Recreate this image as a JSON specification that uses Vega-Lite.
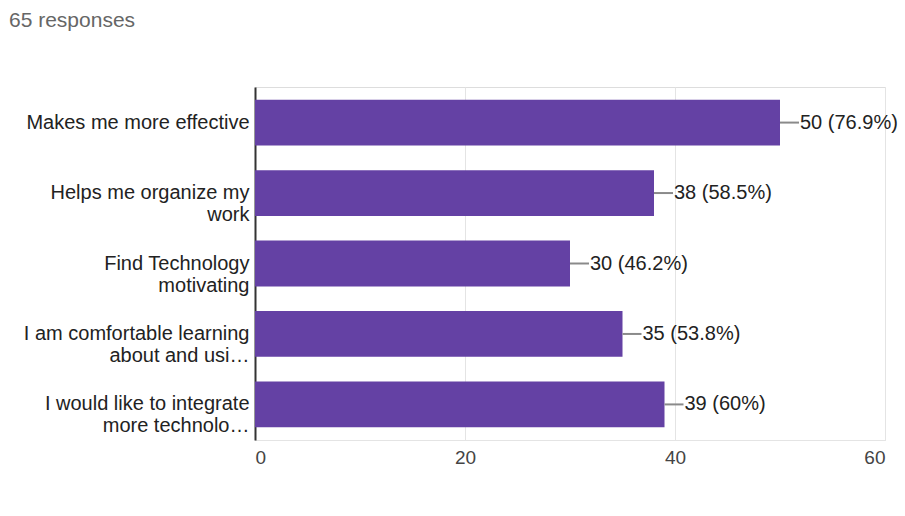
{
  "$schema": "https://vega.github.io/schema/vega-lite/v6.json",
  "autosize": {"type": "none"},
  "width": 630,
  "height": 353,
  "padding": {"left": 255, "top": 87, "right": 20, "bottom": 76},
  "background": "white",
  "title": {
    "text": "65 responses",
    "anchor": "start",
    "frame": "group",
    "dx": -246,
    "offset": 56,
    "fontSize": 21,
    "font": "Liberation Sans",
    "fontWeight": "normal",
    "color": "#666666"
  },
  "data": {
    "values": [
      {"answer": "Makes me more effective", "count": 50, "label": "50 (76.9%)"},
      {"answer": "Helps me organize my work", "count": 38, "label": "38 (58.5%)"},
      {"answer": "Find Technology motivating", "count": 30, "label": "30 (46.2%)"},
      {"answer": "I am comfortable learning about and using technology", "count": 35, "label": "35 (53.8%)"},
      {"answer": "I would like to integrate more technology", "count": 39, "label": "39 (60%)"}
    ]
  },
  "encoding": {
    "y": {
      "field": "answer",
      "type": "nominal",
      "sort": null,
      "title": null,
      "scale": {"paddingInner": 0.35, "paddingOuter": 0.18},
      "axis": {
        "domainColor": "#333333",
        "domainWidth": 2,
        "ticks": false,
        "labelPadding": 6,
        "labelFont": "Liberation Sans",
        "labelFontSize": 20,
        "labelColor": "#222222",
        "labelLimit": 300,
        "labelLineHeight": 22,
        "labelExpr": "datum.value == 'Helps me organize my work' ? ['Helps me organize my', 'work'] : datum.value == 'Find Technology motivating' ? ['Find Technology', 'motivating'] : datum.value == 'I am comfortable learning about and using technology' ? ['I am comfortable learning', 'about and usi…'] : datum.value == 'I would like to integrate more technology' ? ['I would like to integrate', 'more technolo…'] : datum.value"
      }
    }
  },
  "layer": [
    {
      "mark": {"type": "bar", "color": "#6441a4"},
      "encoding": {
        "x": {
          "field": "count",
          "type": "quantitative",
          "title": null,
          "scale": {"domain": [0, 60]},
          "axis": {
            "values": [0, 20, 40, 60],
            "grid": true,
            "gridColor": "#e4e4e4",
            "domainColor": "#e4e4e4",
            "ticks": false,
            "labelPadding": 8,
            "labelFont": "Liberation Sans",
            "labelFontSize": 19,
            "labelColor": "#444444"
          }
        }
      }
    },
    {
      "mark": {"type": "rule", "color": "#8a8a8a", "strokeWidth": 2, "x2Offset": 19},
      "encoding": {
        "x": {"field": "count", "type": "quantitative"},
        "x2": {"field": "count"}
      }
    },
    {
      "mark": {"type": "text", "align": "left", "baseline": "middle", "dx": 20, "font": "Liberation Sans", "fontSize": 20, "color": "#222222"},
      "encoding": {
        "x": {"field": "count", "type": "quantitative"},
        "text": {"field": "label"}
      }
    }
  ]
}
